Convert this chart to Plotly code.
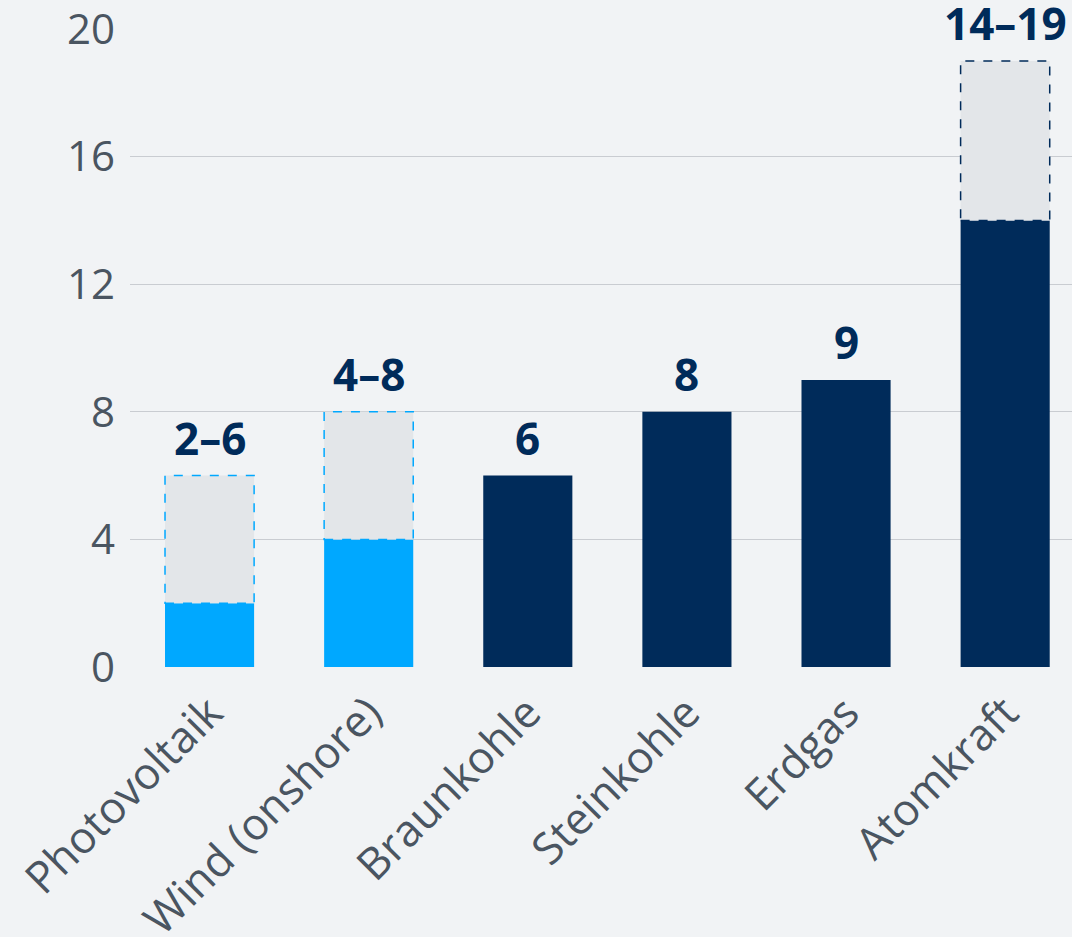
import plotly.graph_objects as go

categories = ["Photovoltaik", "Wind (onshore)", "Braunkohle", "Steinkohle", "Erdgas", "Atomkraft"]
low_values = [2, 4, 6, 8, 9, 14]
high_values = [6, 8, 6, 8, 9, 19]
value_labels = ["2–6", "4–8", "6", "8", "9", "14–19"]
bar_colors = ["#00a8ff", "#00a8ff", "#002b5a", "#002b5a", "#002b5a", "#002b5a"]
y_ticks = [0, 4, 8, 12, 16, 20]

BG = "#f1f3f5"
RANGE_FILL = "#e3e6e9"
BAR_W = 0.56
FONT = "Open Sans"

fig = go.Figure()
xs = list(range(len(categories)))

fig.add_trace(go.Bar(
    x=xs, y=low_values, width=BAR_W,
    marker=dict(color=bar_colors, line=dict(width=0)),
    hoverinfo="skip", showlegend=False,
))

range_base = []
range_len = []
for lo, hi in zip(low_values, high_values):
    range_base.append(lo)
    range_len.append(hi - lo)
fig.add_trace(go.Bar(
    x=xs, y=range_len, base=range_base, width=BAR_W,
    marker=dict(color=RANGE_FILL, line=dict(width=0)),
    hoverinfo="skip", showlegend=False,
))

for i, (lo, hi, c) in enumerate(zip(low_values, high_values, bar_colors)):
    if hi > lo:
        fig.add_shape(type="rect", xref="x", yref="y",
                      x0=i - BAR_W / 2, x1=i + BAR_W / 2, y0=lo, y1=hi,
                      line=dict(color=c, width=1.5, dash="dash"),
                      fillcolor="rgba(0,0,0,0)", layer="above")

for i, (hi, lab) in enumerate(zip(high_values, value_labels)):
    fig.add_annotation(x=i, y=hi, xref="x", yref="y", text="<b>%s</b>" % lab,
                       showarrow=False, yanchor="bottom", yshift=6,
                       font=dict(family=FONT, size=44, color="#002b5a"))

fig.update_layout(
    width=1072, height=937,
    paper_bgcolor=BG, plot_bgcolor=BG,
    margin=dict(l=130, r=0, t=29, b=270, autoexpand=False),
    barmode="overlay",
    font=dict(family=FONT, color="#4a5561"),
    xaxis=dict(
        tickmode="array", tickvals=xs, ticktext=categories,
        range=[-0.5, 5.42], tickangle=-45, showgrid=False, zeroline=False,
        showline=False, ticks="", tickfont=dict(size=44, color="#4a5561"),
        ticklabelstandoff=10, automargin=False,
    ),
    yaxis=dict(
        range=[0, 20], tickmode="array", tickvals=y_ticks,
        showgrid=True, gridcolor="#c9ccd1", gridwidth=1,
        zeroline=False, showline=False, ticks="",
        tickfont=dict(size=42, color="#4a5561"), ticklabelstandoff=14,
        ticklabeloverflow="allow", automargin=False,
    ),
)

fig.write_html(
    "out.html",
    config={"displayModeBar": False},
    post_script="document.body.style.margin='0';document.body.style.background='%s';" % BG,
)
